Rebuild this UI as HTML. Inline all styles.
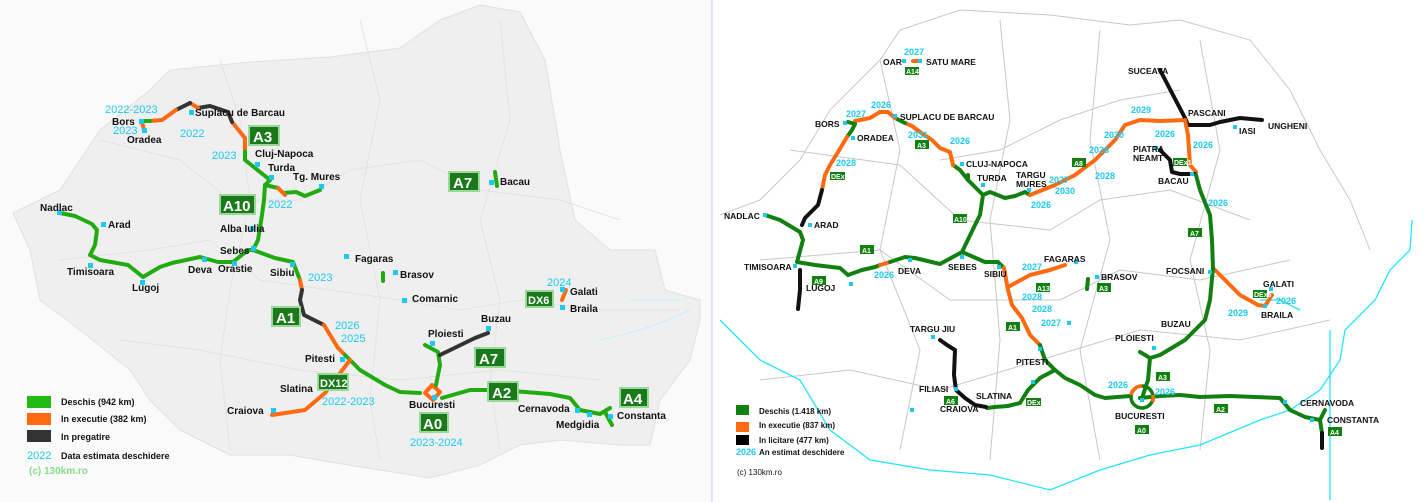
<!DOCTYPE html>
<html><head><meta charset="utf-8"><style>
html,body{margin:0;padding:0;background:#fff;}
svg{display:block;font-family:"Liberation Sans",Arial,sans-serif;}
.l{font-size:10px;font-weight:bold;fill:#111;}
.y{font-size:11px;fill:#1ec8f0;}
.r{font-size:8.5px;font-weight:bold;fill:#111;}
.ry{font-size:9px;fill:#1ec8f0;font-weight:bold;}
</style></head><body>
<svg width="1427" height="502" viewBox="0 0 1427 502">
<rect width="1427" height="502" fill="#fff"/>
<rect x="0" y="0" width="712" height="502" fill="#fafafa"/>
<!-- LEFT MAP land -->
<path d="M13,213 L60,190 L100,130 L150,90 L170,70 L250,62 L330,57 L400,48 L440,20 L480,5 L520,12 L545,60 L560,150 L575,220 L610,250 L655,250 L665,290 L700,300 L700,320 L690,360 L660,400 L650,445 L620,445 L560,440 L520,445 L480,465 L430,478 L380,470 L330,462 L290,455 L230,455 L180,430 L150,400 L130,370 L80,330 L40,300 L30,250 Z" fill="#efefef" stroke="#e0e0e0"/>
<g stroke="#e2e2e2" fill="none" stroke-width="1">
<path d="M100,140 L180,160 L230,200 L300,200 L350,170 L420,160 L480,190 L560,200 L620,220"/>
<path d="M60,260 L150,250 L210,240 L260,280 L330,290 L400,300 L460,310 L520,300 L600,310 L680,310"/>
<path d="M220,60 L240,120 L250,200 L230,290 L220,360 L230,450"/>
<path d="M360,20 L380,100 L360,200 L380,300 L370,400 L380,460"/>
<path d="M500,20 L510,120 L480,220 L500,300 L490,380 L500,450"/>
<path d="M120,340 L200,350 L300,370 L400,380 L500,370 L600,380"/>
</g>
<path d="M630,300 L680,300 M600,340 Q650,330 690,310" stroke="#bff0ff" fill="none"/>
<!-- left roads -->
<g fill="none" stroke-linecap="round" stroke-linejoin="round" stroke-width="4">
<path d="M60,213 L75,216 L92,224 L97,230 L95,245 L90,255 L100,260 L128,265 L143,277" stroke="#22aa11"/>
<path d="M143,277 L160,267 L172,263 L200,257 L218,262 L233,262 L248,250 L253,250 L258,240 L262,215 L264,200 L265,185 L270,180 L245,160 L245,148" stroke="#22aa11"/>
<path d="M253,250 L275,258 L293,262 L300,280" stroke="#22aa11"/>
<path d="M265,185 L278,188 L283,193 L296,192 L305,196 L320,190" stroke="#22aa11"/>
<path d="M278,188 L285,195" stroke="#ff6a10"/>
<path d="M245,148 L245,138 L232,122" stroke="#ff6a10"/>
<path d="M232,122 L228,112 L210,106 L198,108" stroke="#333"/>
<path d="M198,108 L190,103" stroke="#ff6a10"/>
<path d="M190,103 L176,110" stroke="#333"/>
<path d="M176,110 L162,120 L150,121 L142,121" stroke="#ff6a10"/>
<path d="M142,121 L150,121" stroke="#22aa11"/>
<path d="M142,122 L144,130" stroke="#ff6a10"/>
<path d="M300,280 L302,290" stroke="#ff6a10"/>
<path d="M302,290 L300,300 L304,315 L324,325" stroke="#333"/>
<path d="M324,325 L338,348 L345,355" stroke="#ff6a10"/>
<path d="M345,355 L360,370 L385,385 L400,392 L420,393" stroke="#22aa11"/>
<path d="M350,360 L325,393 L305,410 L272,415" stroke="#ff6a10"/>
<path d="M425,393 L432,385 L440,392 L433,400 Z" stroke="#ff6a10"/>
<path d="M425,345 L438,352 L440,365 L436,385" stroke="#22aa11"/>
<path d="M440,355 L475,338 L488,333" stroke="#333"/>
<path d="M442,398 L470,390 L500,390 L550,394 L570,398 L580,410 L600,414 L610,408 M605,412 L612,425" stroke="#22aa11"/>
<path d="M495,172 L497,186 M383,273 L383,281" stroke="#22aa11"/>
<path d="M562,300 L566,290" stroke="#ff6a10"/>
</g>
<g fill="#1ec8f0">
<rect x="57" y="210" width="5" height="5"/><rect x="101" y="222" width="5" height="5"/><rect x="88" y="263" width="5" height="5"/><rect x="140" y="280" width="5" height="5"/><rect x="202" y="257" width="5" height="5"/><rect x="232" y="261" width="5" height="5"/><rect x="251" y="246" width="5" height="5"/><rect x="290" y="262" width="5" height="5"/><rect x="250" y="226" width="5" height="5"/><rect x="255" y="162" width="5" height="5"/><rect x="269" y="175" width="5" height="5"/><rect x="319" y="184" width="5" height="5"/><rect x="189" y="110" width="5" height="5"/><rect x="139" y="119" width="5" height="5"/><rect x="142" y="128" width="5" height="5"/><rect x="344" y="254" width="5" height="5"/><rect x="393" y="270" width="5" height="5"/><rect x="402" y="298" width="5" height="5"/><rect x="489" y="180" width="5" height="5"/><rect x="560" y="287" width="5" height="5"/><rect x="560" y="305" width="5" height="5"/><rect x="340" y="357" width="5" height="5"/><rect x="271" y="408" width="5" height="5"/><rect x="430" y="341" width="5" height="5"/><rect x="486" y="326" width="5" height="5"/><rect x="432" y="395" width="5" height="5"/><rect x="575" y="408" width="5" height="5"/><rect x="587" y="412" width="5" height="5"/><rect x="608" y="414" width="5" height="5"/>
</g>
<g class="l">
<text x="40" y="211">Nadlac</text><text x="108" y="228">Arad</text><text x="67" y="275">Timisoara</text><text x="132" y="291">Lugoj</text><text x="188" y="273">Deva</text><text x="218" y="272">Orastie</text><text x="220" y="232">Alba Iulia</text><text x="220" y="254">Sebes</text><text x="270" y="276">Sibiu</text><text x="255" y="157">Cluj-Napoca</text><text x="268" y="171">Turda</text><text x="293" y="180">Tg. Mures</text><text x="195" y="116">Suplacu de Barcau</text><text x="112" y="125">Bors</text><text x="127" y="143">Oradea</text><text x="355" y="262">Fagaras</text><text x="400" y="278">Brasov</text><text x="412" y="302">Comarnic</text><text x="500" y="185">Bacau</text><text x="570" y="295">Galati</text><text x="570" y="312">Braila</text><text x="481" y="322">Buzau</text><text x="428" y="337">Ploiesti</text><text x="305" y="362">Pitesti</text><text x="280" y="392">Slatina</text><text x="227" y="414">Craiova</text><text x="409" y="408">Bucuresti</text><text x="518" y="412">Cernavoda</text><text x="556" y="428">Medgidia</text><text x="617" y="419">Constanta</text>
</g>
<g class="y">
<text x="105" y="113">2022-2023</text><text x="113" y="134">2023</text><text x="180" y="137">2022</text><text x="212" y="159">2023</text><text x="268" y="208">2022</text><text x="308" y="281">2023</text><text x="335" y="329">2026</text><text x="341" y="342">2025</text><text x="322" y="405">2022-2023</text><text x="410" y="446">2023-2024</text><text x="547" y="286">2024</text>
</g>
<g font-weight="bold" fill="#fff" font-size="15">
<rect x="249" y="126" width="30" height="19" fill="#1a7a1a" stroke="#9bd69b" stroke-width="2"/><text x="253" y="142">A3</text>
<rect x="220" y="195" width="35" height="19" fill="#1a7a1a" stroke="#9bd69b" stroke-width="2"/><text x="223" y="211">A10</text>
<rect x="449" y="172" width="30" height="19" fill="#1a7a1a" stroke="#9bd69b" stroke-width="2"/><text x="453" y="188">A7</text>
<rect x="272" y="307" width="28" height="19" fill="#1a7a1a" stroke="#9bd69b" stroke-width="2"/><text x="276" y="323">A1</text>
<rect x="475" y="348" width="30" height="19" fill="#1a7a1a" stroke="#9bd69b" stroke-width="2"/><text x="479" y="364">A7</text>
<rect x="488" y="382" width="30" height="19" fill="#1a7a1a" stroke="#9bd69b" stroke-width="2"/><text x="492" y="398">A2</text>
<rect x="620" y="388" width="28" height="19" fill="#1a7a1a" stroke="#9bd69b" stroke-width="2"/><text x="623" y="404">A4</text>
<rect x="420" y="413" width="28" height="19" fill="#1a7a1a" stroke="#9bd69b" stroke-width="2"/><text x="423" y="429">A0</text>
<rect x="318" y="374" width="30" height="16" fill="#1a7a1a" stroke="#9bd69b" stroke-width="2" /><text x="320" y="387" font-size="11">DX12</text>
<rect x="526" y="291" width="27" height="16" fill="#1a7a1a" stroke="#9bd69b" stroke-width="2"/><text x="528" y="304" font-size="11">DX6</text>
</g>
<rect x="27" y="396" width="24" height="12" fill="#22bb11"/><rect x="27" y="413" width="24" height="12" fill="#ff6a10"/><rect x="27" y="430" width="24" height="12" fill="#333"/>
<g font-size="9px" font-weight="bold" fill="#111"><text x="61" y="405">Deschis (942 km)</text><text x="61" y="422">In executie (382 km)</text><text x="61" y="440">In pregatire</text><text x="61" y="459">Data estimata deschidere</text></g>
<text x="27" y="459" class="y">2022</text>
<text x="29" y="474" font-size="10" font-weight="bold" fill="#88dd88">(c) 130km.ro</text>
<line x1="712" y1="0" x2="712" y2="502" stroke="#c9c9ee"/>
<!-- RIGHT MAP -->
<g stroke="#c8c8c8" fill="none" stroke-width="1">
<path d="M720,215 L760,200 L800,160 L830,110 L880,60 L900,30 L960,10 L1050,15 L1130,25 L1180,20 L1250,40 L1290,90 L1320,150 L1350,200 L1370,250"/>
<path d="M790,150 L900,165 L960,220 L1050,230 L1100,200 L1170,190 L1250,220"/>
<path d="M760,260 L880,250 L950,300 L1060,300 L1120,270 L1200,280 L1290,260"/>
<path d="M880,60 L900,150 L880,250 L920,350 L900,450"/>
<path d="M1000,20 L1010,120 L990,220 L1000,340 L990,460"/>
<path d="M1100,30 L1090,140 L1110,240 L1080,350 L1100,460"/>
<path d="M1200,40 L1220,150 L1190,260 L1210,350 L1200,450"/>
<path d="M760,380 L850,370 L940,390 L1040,360 L1140,330 L1240,340 L1330,320"/>
<path d="M940,160 L1000,150 L1060,120 L1120,100 L1180,90"/>
</g>
<path d="M720,320 L740,340 L760,360 L800,380 L830,430 L870,460 L930,470 L990,475 L1050,490 L1100,470 L1150,455 L1200,445 L1260,420 L1290,410 L1320,390 L1340,360 L1345,330 L1375,300 L1390,270 L1410,250 L1412,220 M1330,330 L1330,500 M1260,300 L1280,300 L1300,310" stroke="#22e4ff" fill="none" stroke-width="1.3"/>
<g fill="none" stroke-linecap="round" stroke-linejoin="round" stroke-width="4">
<path d="M765,215 L780,220 L800,232 L803,240 L797,262 L815,265 L840,268 L848,275" stroke="#118011"/>
<path d="M848,275 L862,270 L875,267 L880,265" stroke="#118011"/>
<path d="M880,265 L890,262" stroke="#ff6a10"/>
<path d="M890,262 L905,257 L915,258 L940,264 L962,252 L985,262 L998,262 L1004,268" stroke="#118011"/>
<path d="M962,252 L975,225 L980,215 L983,195 L990,192 L1005,198 L1015,196 L1025,192 L1030,195" stroke="#118011"/>
<path d="M983,195 L968,180 L960,170 L953,165" stroke="#118011"/>
<path d="M968,180 L968,175" stroke="#118011"/>
<path d="M1030,195 L1055,185 L1075,175 L1095,160 L1105,150 L1115,140 L1125,125 L1140,120 L1160,121 L1185,120" stroke="#ff6a10"/>
<path d="M953,165 L950,152 L940,148 L932,140 L920,132 L912,126 L905,123" stroke="#ff6a10"/>
<path d="M905,123 L895,118" stroke="#118011"/>
<path d="M895,118 L888,112 L880,112 L870,118 L855,121" stroke="#ff6a10"/>
<path d="M848,122 L855,124 L852,130 L847,137" stroke="#118011"/>
<path d="M847,137 L838,152 L830,165 L825,175 L822,190" stroke="#ff6a10"/>
<path d="M822,190 L818,205 L805,218 L802,225" stroke="#111"/>
<path d="M800,270 L800,290 L798,309" stroke="#111"/>
<path d="M1160,70 L1185,118 L1188,125 L1210,125 L1220,122 L1240,118 L1262,120" stroke="#111"/>
<path d="M1185,120 L1188,135 L1190,165 L1196,172" stroke="#ff6a10"/>
<path d="M1160,150 L1170,160 L1172,172 L1180,174 L1195,174" stroke="#111"/>
<path d="M1196,175 L1200,190 L1210,215 L1212,240 L1213,268" stroke="#118011"/>
<path d="M1213,268 L1230,285 L1240,295 L1258,305 L1265,306 L1272,295" stroke="#ff6a10"/>
<path d="M1213,268 L1210,300 L1205,320 L1185,340 L1160,355 L1150,358" stroke="#118011"/>
<path d="M1140,352 L1150,358 L1148,380 L1143,395" stroke="#118011"/>
<path d="M1004,268 L1008,290 L1012,305 L1022,318 L1030,335 L1040,345" stroke="#ff6a10"/>
<path d="M1008,287 L1030,275 L1050,270 L1065,265" stroke="#ff6a10"/>
<path d="M1040,345 L1045,360 L1055,370 L1065,378 L1080,385 L1095,395 L1105,398 L1130,396" stroke="#118011"/>
<path d="M1055,370 L1040,378 L1028,390 L1020,403 L1008,406 L995,407 L987,408" stroke="#118011"/>
<path d="M940,340 L947,345 L955,350 L954,375 L956,390 L965,398 L975,405 L986,407" stroke="#111"/>
<path d="M1140,398 L1160,396 L1180,395 L1200,397 L1230,396 L1280,398 L1290,410 L1305,417 L1320,420" stroke="#118011"/>
<path d="M1320,420 L1325,410 M1320,420 L1322,433" stroke="#118011"/>
<path d="M1322,433 L1322,448" stroke="#111"/>
<path d="M1088,279 L1087,289" stroke="#118011"/>
<path d="M913,61 L920,61" stroke="#ff6a10"/>
</g>
<circle cx="1142" cy="397" r="11" fill="none" stroke="#118011" stroke-width="3.5"/>
<path d="M1131,395 A11,11 0 0 1 1142,386" fill="none" stroke="#ff6a10" stroke-width="3.5"/>
<path d="M1153,395 L1153,402" stroke="#ff6a10" stroke-width="3.5"/>
<g fill="#1ec8f0">
<rect x="763" y="213" width="4" height="4"/><rect x="808" y="223" width="4" height="4"/><rect x="793" y="264" width="4" height="4"/><rect x="849" y="282" width="4" height="4"/><rect x="908" y="258" width="4" height="4"/><rect x="960" y="255" width="4" height="4"/><rect x="997" y="265" width="4" height="4"/><rect x="960" y="162" width="4" height="4"/><rect x="981" y="183" width="4" height="4"/><rect x="1027" y="188" width="4" height="4"/><rect x="843" y="121" width="4" height="4"/><rect x="851" y="136" width="4" height="4"/><rect x="893" y="114" width="4" height="4"/><rect x="902" y="59" width="4" height="4"/><rect x="918" y="59" width="4" height="4"/><rect x="1074" y="260" width="4" height="4"/><rect x="1095" y="275" width="4" height="4"/><rect x="1208" y="270" width="4" height="4"/><rect x="1233" y="125" width="4" height="4"/><rect x="1154" y="146" width="4" height="4"/><rect x="1190" y="172" width="4" height="4"/><rect x="1269" y="287" width="4" height="4"/><rect x="1263" y="304" width="4" height="4"/><rect x="1067" y="321" width="4" height="4"/><rect x="1038" y="347" width="4" height="4"/><rect x="1152" y="346" width="4" height="4"/><rect x="1031" y="380" width="4" height="4"/><rect x="931" y="335" width="4" height="4"/><rect x="954" y="387" width="4" height="4"/><rect x="1140" y="398" width="4" height="4"/><rect x="1283" y="400" width="4" height="4"/><rect x="1310" y="418" width="4" height="4"/><rect x="910" y="408" width="4" height="4"/>
</g>
<g class="r">
<text x="883" y="65">OAR</text><text x="926" y="65">SATU MARE</text><text x="815" y="127">BORS</text><text x="857" y="141">ORADEA</text><text x="900" y="120">SUPLACU DE BARCAU</text><text x="966" y="167">CLUJ-NAPOCA</text><text x="977" y="181">TURDA</text><text x="1016" y="178">TARGU</text><text x="1016" y="187">MURES</text><text x="724" y="219">NADLAC</text><text x="814" y="228">ARAD</text><text x="744" y="270">TIMISOARA</text><text x="806" y="291">LUGOJ</text><text x="898" y="274">DEVA</text><text x="948" y="270">SEBES</text><text x="984" y="277">SIBIU</text><text x="1044" y="262">FAGARAS</text><text x="1101" y="280">BRASOV</text><text x="1128" y="74">SUCEAVA</text><text x="1188" y="116">PASCANI</text><text x="1239" y="134">IASI</text><text x="1268" y="129">UNGHENI</text><text x="1133" y="152">PIATRA</text><text x="1133" y="161">NEAMT</text><text x="1158" y="184">BACAU</text><text x="1166" y="274">FOCSANI</text><text x="1263" y="287">GALATI</text><text x="1261" y="318">BRAILA</text><text x="1161" y="327">BUZAU</text><text x="1115" y="341">PLOIESTI</text><text x="1016" y="365">PITESTI</text><text x="910" y="332">TARGU JIU</text><text x="919" y="392">FILIASI</text><text x="976" y="399">SLATINA</text><text x="940" y="412">CRAIOVA</text><text x="1115" y="419">BUCURESTI</text><text x="1300" y="406">CERNAVODA</text><text x="1327" y="423">CONSTANTA</text>
</g>
<g class="ry">
<text x="904" y="55">2027</text><text x="846" y="117">2027</text><text x="871" y="108">2026</text><text x="908" y="138">2031</text><text x="950" y="144">2026</text><text x="836" y="166">2028</text><text x="1049" y="183">2027</text><text x="1031" y="208">2026</text><text x="1131" y="113">2029</text><text x="1155" y="137">2026</text><text x="1104" y="138">2030</text><text x="1089" y="153">2028</text><text x="1095" y="179">2028</text><text x="1055" y="194">2030</text><text x="1193" y="148">2026</text><text x="1208" y="206">2026</text><text x="1022" y="270">2027</text><text x="1022" y="300">2028</text><text x="1032" y="312">2028</text><text x="1041" y="326">2027</text><text x="874" y="278">2026</text><text x="1276" y="304">2026</text><text x="1228" y="316">2029</text><text x="1108" y="388">2026</text><text x="1155" y="395">2026</text>
</g>
<g font-size="7" font-weight="bold" fill="#fff">
<rect x="905" y="67" width="14" height="8" fill="#118011"/><text x="906" y="74">A14</text>
<rect x="915" y="140" width="14" height="9" fill="#118011"/><text x="917" y="148">A3</text>
<rect x="830" y="172" width="15" height="8" fill="#118011"/><text x="831" y="179">DEx16</text>
<rect x="953" y="214" width="14" height="9" fill="#118011"/><text x="954" y="222">A10</text>
<rect x="860" y="245" width="14" height="9" fill="#118011"/><text x="862" y="253">A1</text>
<rect x="1072" y="158" width="14" height="9" fill="#118011"/><text x="1074" y="166">A8</text>
<rect x="1173" y="158" width="14" height="8" fill="#118011"/><text x="1174" y="165">DEx14</text>
<rect x="1188" y="228" width="14" height="9" fill="#118011"/><text x="1190" y="236">A7</text>
<rect x="812" y="276" width="14" height="9" fill="#118011"/><text x="814" y="284">A9</text>
<rect x="1036" y="283" width="14" height="9" fill="#118011"/><text x="1037" y="291">A13</text>
<rect x="1097" y="283" width="14" height="9" fill="#118011"/><text x="1099" y="291">A3</text>
<rect x="1253" y="290" width="14" height="8" fill="#118011"/><text x="1254" y="297">DEx6</text>
<rect x="1006" y="322" width="14" height="9" fill="#118011"/><text x="1008" y="330">A1</text>
<rect x="1156" y="372" width="14" height="9" fill="#118011"/><text x="1158" y="380">A3</text>
<rect x="944" y="396" width="14" height="9" fill="#118011"/><text x="946" y="404">A6</text>
<rect x="1026" y="398" width="15" height="8" fill="#118011"/><text x="1027" y="405">DEx12</text>
<rect x="1214" y="404" width="14" height="9" fill="#118011"/><text x="1216" y="412">A2</text>
<rect x="1135" y="425" width="14" height="9" fill="#118011"/><text x="1137" y="433">A0</text>
<rect x="1328" y="427" width="14" height="9" fill="#118011"/><text x="1330" y="435">A4</text>
</g>
<rect x="736" y="405" width="13" height="10" fill="#118011"/><rect x="736" y="422" width="13" height="10" fill="#ff6a10"/><rect x="736" y="435" width="13" height="10" fill="#000"/>
<g font-size="8" font-weight="bold" fill="#111"><text x="759" y="414">Deschis (1.418 km)</text><text x="759" y="428">In executie (837 km)</text><text x="759" y="443">In licitare (477 km)</text><text x="759" y="455">An estimat deschidere</text><text x="737" y="475" font-weight="normal">(c) 130km.ro</text></g>
<text x="736" y="455" class="ry">2026</text>
</svg>
</body></html>
